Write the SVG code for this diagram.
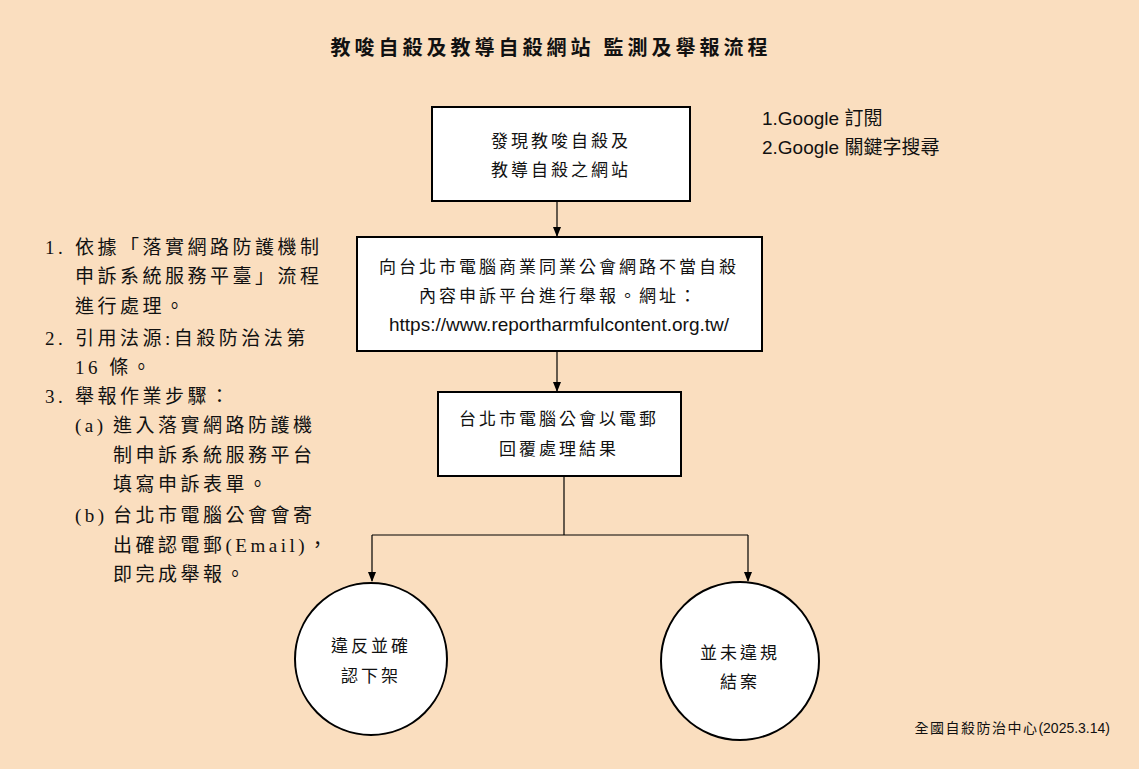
<svg xmlns="http://www.w3.org/2000/svg" width="1139" height="769" viewBox="0 0 1139 769">
<style>
text{font-family:"Liberation Serif","Noto Sans CJK TC",serif;fill:#111}
.b{fill:#fff;stroke:#000;stroke-width:2}
.c{font-size:17px;text-anchor:middle;letter-spacing:3px}
.l{font-size:19px;letter-spacing:3.5px}
.s{font-family:"Liberation Sans","Noto Sans CJK TC",sans-serif}
line{stroke:#000;stroke-width:1.2}
</style>
<defs><marker id="a" markerWidth="10" markerHeight="10" refX="9" refY="5" orient="auto" markerUnits="userSpaceOnUse"><path d="M0,1 L10,5 L0,9 Z" fill="#000"/></marker></defs>
<rect width="1139" height="769" fill="#FADEBF"/>
<text x="551" y="55" text-anchor="middle" font-size="20" font-weight="bold" style="letter-spacing:4px">教唆自殺及教導自殺網站 監測及舉報流程</text>
<g id="n1"><rect class="b" x="432" y="107" width="258" height="94"/><text class="c" x="561" y="147">發現教唆自殺及</text><text class="c" x="561" y="176">教導自殺之網站</text></g>
<g id="n2"><rect class="b" x="357" y="237" width="405" height="114"/><text class="c" x="559" y="273">向台北市電腦商業同業公會網路不當自殺</text><text class="c" x="559" y="302">內容申訴平台進行舉報。網址：</text><text class="c s" x="559" y="331" font-size="19" style="letter-spacing:0;font-size:19px">https://www.reportharmfulcontent.org.tw/</text></g>
<g id="n3"><rect class="b" x="438" y="392" width="243" height="84"/><text class="c" x="559" y="425">台北市電腦公會以電郵</text><text class="c" x="559" y="455">回覆處理結果</text></g>
<g id="n4"><circle class="b" cx="371" cy="659" r="76"/><text class="c" x="371" y="652">違反並確</text><text class="c" x="371" y="682">認下架</text></g>
<g id="n5"><circle class="b" cx="740" cy="661" r="79"/><text class="c" x="740" y="659">並未違規</text><text class="c" x="740" y="688">結案</text></g>
<g id="connectors">
<line x1="557" y1="201" x2="557" y2="236" marker-end="url(#a)"/>
<line x1="557" y1="351" x2="557" y2="391" marker-end="url(#a)"/>
<line x1="564" y1="476" x2="564" y2="535"/>
<line x1="372" y1="535" x2="748" y2="535"/>
<line x1="372" y1="535" x2="372" y2="581" marker-end="url(#a)"/>
<line x1="748" y1="535" x2="748" y2="581" marker-end="url(#a)"/>
</g>
<g id="notes">
<text class="s" x="762" y="125" font-size="19">1.Google 訂閱</text>
<text class="s" x="762" y="154" font-size="19">2.Google 關鍵字搜尋</text>
<text class="l" x="45" y="254">1.</text><text class="l" x="75" y="254">依據「落實網路防護機制</text>
<text class="l" x="75" y="283">申訴系統服務平臺」流程</text>
<text class="l" x="75" y="313">進行處理。</text>
<text class="l" x="45" y="345">2.</text><text class="l" x="75" y="345">引用法源:自殺防治法第</text>
<text class="l" x="75" y="374">16 條。</text>
<text class="l" x="45" y="403">3.</text><text class="l" x="75" y="403">舉報作業步驟：</text>
<text class="l" x="75" y="432">(a)</text><text class="l" x="113" y="432">進入落實網路防護機</text>
<text class="l" x="113" y="462">制申訴系統服務平台</text>
<text class="l" x="113" y="491">填寫申訴表單。</text>
<text class="l" x="75" y="522">(b)</text><text class="l" x="113" y="522">台北市電腦公會會寄</text>
<text class="l" x="113" y="552">出確認電郵(Email)，</text>
<text class="l" x="113" y="581">即完成舉報。</text>
<text x="1110" y="733" text-anchor="end" font-size="14" style="letter-spacing:1.5px">全國自殺防治中心<tspan class="s" style="letter-spacing:0">(2025.3.14)</tspan></text>
</g>
</svg>
